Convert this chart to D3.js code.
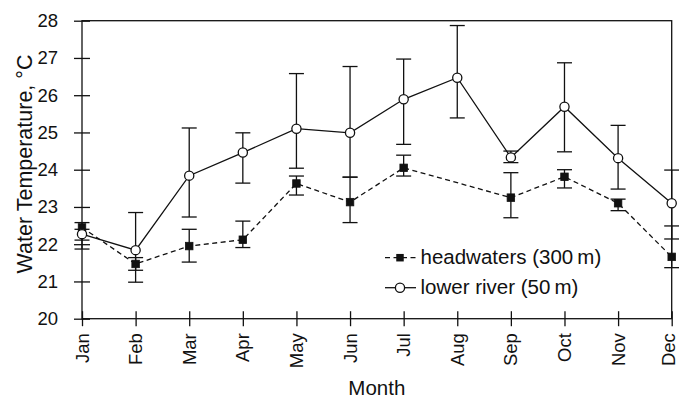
<!DOCTYPE html>
<html>
<head>
<meta charset="utf-8">
<script src="https://cdn.jsdelivr.net/npm/d3@7"></script>
<style>
  html, body { margin: 0; padding: 0; background: #fff; }
  svg { display: block; font-family: "Liberation Sans", Arial, Helvetica, sans-serif; }
</style>
</head>
<body>
<svg id="chart" width="679" height="397"></svg>
<script>
// Monthly water temperature, mean with error range, for two river sites
const months = ["Jan", "Feb", "Mar", "Apr", "May", "Jun", "Jul", "Aug", "Sep", "Oct", "Nov", "Dec"];

// headwaters (300 m) — no August record
const headMean = [22.45, 21.47, 21.95, 22.12, 23.63, 23.13, 24.05, null, 23.25, 23.81, 23.10, 21.66];
const headHi   = [22.58, 21.64, 22.40, 22.62, 23.83, 23.80, 24.39, null, 23.92, 24.00, 23.21, 22.49];
const headLo   = [22.11, 21.30, 21.52, 21.91, 23.32, 22.58, 23.83, null, 22.71, 23.51, 22.90, 21.37];

// lower river (50 m)
const lowMean = [22.27, 21.84, 23.84, 24.46, 25.10, 24.99, 25.89, 26.47, 24.33, 25.69, 24.31, 23.10];
const lowHi   = [22.40, 22.85, 25.12, 24.99, 26.58, 26.77, 26.97, 27.87, 24.50, 26.87, 25.19, 23.99];
const lowLo   = [21.87, 20.98, 22.73, 23.64, 24.04, 23.80, 24.68, 25.39, 24.19, 24.48, 23.48, 22.14];

const yTicks = [20, 21, 22, 23, 24, 25, 26, 27, 28];
const seriesNames = ["headwaters (300\u2009m)", "lower river (50\u2009m)"];

const svg = d3.select("#chart");
const plotL = 82, plotR = 671.7, plotT = 20.7, plotB = 318.7;

const x = d3.scalePoint().domain(months).range([plotL, plotR]);
const y = d3.scaleLinear().domain([20, 28]).range([plotB, plotT]);

const build = (mean, hi, lo) => months.map((m, i) => ({ m, v: mean[i], hi: hi[i], lo: lo[i] }))
  .filter(d => d.v != null);
const head = build(headMean, headHi, headLo);
const low = build(lowMean, lowHi, lowLo);

const ink = "#111";
const sw = 1.3;

// plot frame
svg.append("rect")
  .attr("x", plotL).attr("y", plotT)
  .attr("width", plotR - plotL).attr("height", plotB - plotT)
  .attr("fill", "none").attr("stroke", ink).attr("stroke-width", sw);

// y axis, ticks crossing the axis line
const yAxis = svg.append("g")
  .attr("transform", `translate(${plotL},0)`)
  .call(d3.axisLeft(y).tickValues(yTicks).tickSize(8).tickPadding(16).tickFormat(d3.format("d")));
yAxis.select(".domain").remove();
yAxis.selectAll(".tick line").attr("x1", 8).attr("stroke", ink).attr("stroke-width", sw);
yAxis.selectAll(".tick text").attr("font-size", 18.5).attr("fill", ink).attr("font-family", null);

// x axis, ticks crossing the axis line, labels rotated
const xAxis = svg.append("g")
  .attr("transform", `translate(0,${plotB})`)
  .call(d3.axisBottom(x).tickSize(7.5));
xAxis.select(".domain").remove();
xAxis.selectAll(".tick line").attr("y1", -7.5).attr("stroke", ink).attr("stroke-width", sw);
xAxis.selectAll(".tick text")
  .attr("font-size", 18.5).attr("fill", ink).attr("font-family", null)
  .attr("transform", "rotate(-90)")
  .attr("x", -14.5).attr("y", 0)
  .attr("dy", (d, i) => i === months.length - 1 ? "0.17em" : "0.33em")  // last label sits at the page edge
  .attr("text-anchor", "end");

// axis titles
svg.append("text")
  .attr("transform", `translate(32,164) rotate(-90)`)
  .attr("text-anchor", "middle")
  .attr("font-size", 21.5).attr("fill", ink)
  .text("Water Temperature, \u00B0C");

svg.append("text")
  .attr("x", (plotL + plotR) / 2).attr("y", 394.5)
  .attr("text-anchor", "middle")
  .attr("font-size", 20.5).attr("fill", ink)
  .text("Month");

// error bars
const capW = 7.5;
function errorBars(data) {
  const g = svg.append("g").attr("stroke", ink).attr("stroke-width", sw).attr("fill", "none");
  data.forEach(d => {
    const cx = x(d.m);
    g.append("line").attr("x1", cx).attr("x2", cx).attr("y1", y(d.hi)).attr("y2", y(d.lo));
    g.append("line").attr("x1", cx - capW).attr("x2", cx + capW).attr("y1", y(d.hi)).attr("y2", y(d.hi));
    g.append("line").attr("x1", cx - capW).attr("x2", cx + capW).attr("y1", y(d.lo)).attr("y2", y(d.lo));
  });
}
errorBars(low);
errorBars(head);

// series lines
const line = d3.line().x(d => x(d.m)).y(d => y(d.v));
svg.append("path").datum(head)
  .attr("d", line).attr("fill", "none")
  .attr("stroke", ink).attr("stroke-width", sw).attr("stroke-dasharray", "5,3.5");
svg.append("path").datum(low)
  .attr("d", line).attr("fill", "none")
  .attr("stroke", ink).attr("stroke-width", sw);

// markers
const sq = 7.5;
svg.append("g").selectAll("rect").data(head).join("rect")
  .attr("x", d => x(d.m) - sq / 2).attr("y", d => y(d.v) - sq / 2)
  .attr("width", sq).attr("height", sq)
  .attr("fill", ink).attr("stroke", ink).attr("stroke-width", 0.8);
svg.append("g").selectAll("circle").data(low).join("circle")
  .attr("cx", d => x(d.m)).attr("cy", d => y(d.v)).attr("r", 4.6)
  .attr("fill", "#fff").attr("stroke", ink).attr("stroke-width", sw);

// legend
const lg = svg.append("g");
const rows = [{ y: 257.7, name: seriesNames[0], dashed: true }, { y: 287.7, name: seriesNames[1], dashed: false }];
rows.forEach(r => {
  lg.append("line")
    .attr("x1", 385).attr("x2", 416).attr("y1", r.y).attr("y2", r.y)
    .attr("stroke", ink).attr("stroke-width", sw)
    .attr("stroke-dasharray", r.dashed ? "5,3.5" : null);
  if (r.dashed) {
    lg.append("rect").attr("x", 400 - sq / 2).attr("y", r.y - sq / 2)
      .attr("width", sq).attr("height", sq).attr("fill", ink);
  } else {
    lg.append("circle").attr("cx", 400).attr("cy", r.y).attr("r", 4.6)
      .attr("fill", "#fff").attr("stroke", ink).attr("stroke-width", sw);
  }
  lg.append("text")
    .attr("x", 420.5).attr("y", r.y + 6.5)
    .attr("font-size", 20.5).attr("fill", ink)
    .text(r.name);
});
</script>
</body>
</html>
